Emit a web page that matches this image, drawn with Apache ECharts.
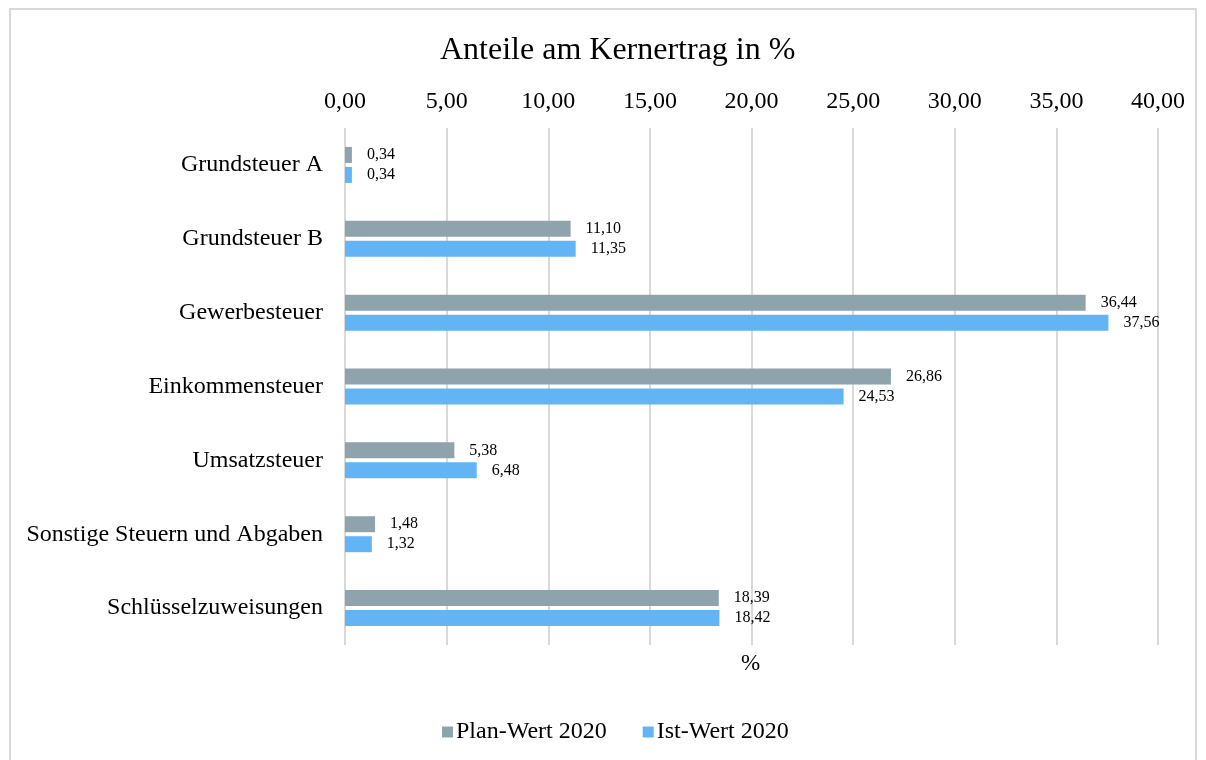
<!DOCTYPE html>
<html>
<head>
<meta charset="utf-8">
<script src="https://cdn.jsdelivr.net/npm/echarts@6/dist/echarts.min.js"></script>
<style>
  html, body { margin: 0; padding: 0; background: #fff; }
  #chart { width: 1206px; height: 760px; }
</style>
</head>
<body>
<div id="chart"></div>
<script>
// Kategorien (von oben nach unten)
const categories = ['Grundsteuer A', 'Grundsteuer B', 'Gewerbesteuer', 'Einkommensteuer', 'Umsatzsteuer', 'Sonstige Steuern und Abgaben', 'Schlüsselzuweisungen']
const planWerte = [0.34, 11.10, 36.44, 26.86, 5.38, 1.48, 18.39]
const istWerte = [0.34, 11.35, 37.56, 24.53, 6.48, 1.32, 18.42]
const seriesNames = ['Plan-Wert 2020', 'Ist-Wert 2020']

const fontFamily = '"Liberation Serif", "Times New Roman", serif'
const fmt = v => Number(v).toFixed(2).replace('.', ',')

let chart = echarts.init(document.getElementById('chart'))
let option = {
  backgroundColor: '#fff',
  textStyle: { fontFamily: fontFamily, color: '#000' },
  title: {
    text: 'Anteile am Kernertrag in %',
    left: 435,
    top: 30,
    textStyle: { fontFamily: fontFamily, fontSize: 32, fontWeight: 'normal', color: '#000' }
  },
  legend: {
    data: seriesNames,
    bottom: 11,
    left: 437,
    itemWidth: 11,
    itemHeight: 11,
    itemGap: 36,
    icon: 'rect',
    textStyle: { fontFamily: fontFamily, fontSize: 24, color: '#000', padding: [0, 0, 0, -2] }
  },
  grid: {
    left: 345,
    right: 48,
    top: 128,
    bottom: 115
  },
  xAxis: {
    type: 'value',
    position: 'top',
    min: 0,
    max: 40,
    interval: 5,
    axisLine: { show: false },
    axisTick: { show: false },
    axisLabel: {
      margin: 14,
      fontSize: 24,
      fontFamily: fontFamily,
      color: '#000',
      formatter: v => fmt(v)
    },
    splitLine: { show: true, lineStyle: { color: '#d9d9d9', width: 2 } }
  },
  yAxis: {
    type: 'category',
    data: categories,
    inverse: true,
    axisLine: { show: false },
    axisTick: { show: false },
    axisLabel: {
      margin: 22,
      fontSize: 24,
      fontFamily: fontFamily,
      color: '#000'
    }
  },
  series: [
    {
      name: seriesNames[0],
      type: 'bar',
      data: planWerte,
      barWidth: 16,
      barGap: '25%',
      itemStyle: { color: '#8fa3ac' },
      label: {
        show: true,
        position: 'right',
        distance: 15,
        fontSize: 16,
        fontFamily: fontFamily,
        color: '#000',
        formatter: p => fmt(p.value)
      }
    },
    {
      name: seriesNames[1],
      type: 'bar',
      data: istWerte,
      barWidth: 16,
      barGap: '25%',
      itemStyle: { color: '#63b4f5' },
      label: {
        show: true,
        position: 'right',
        distance: 15,
        fontSize: 16,
        fontFamily: fontFamily,
        color: '#000',
        formatter: p => fmt(p.value)
      }
    }
  ],
  graphic: [
    {
      type: 'rect',
      shape: { x: 10, y: 9, width: 1186, height: 770 },
      style: { fill: 'none', stroke: '#d9d9d9', lineWidth: 2 },
      silent: true
    },
    {
      type: 'text',
      left: 741,
      top: 652,
      style: { text: '%', fontFamily: fontFamily, fontSize: 23, fill: '#000' }
    }
  ]
}

chart.setOption(option)
</script>
</body>
</html>
